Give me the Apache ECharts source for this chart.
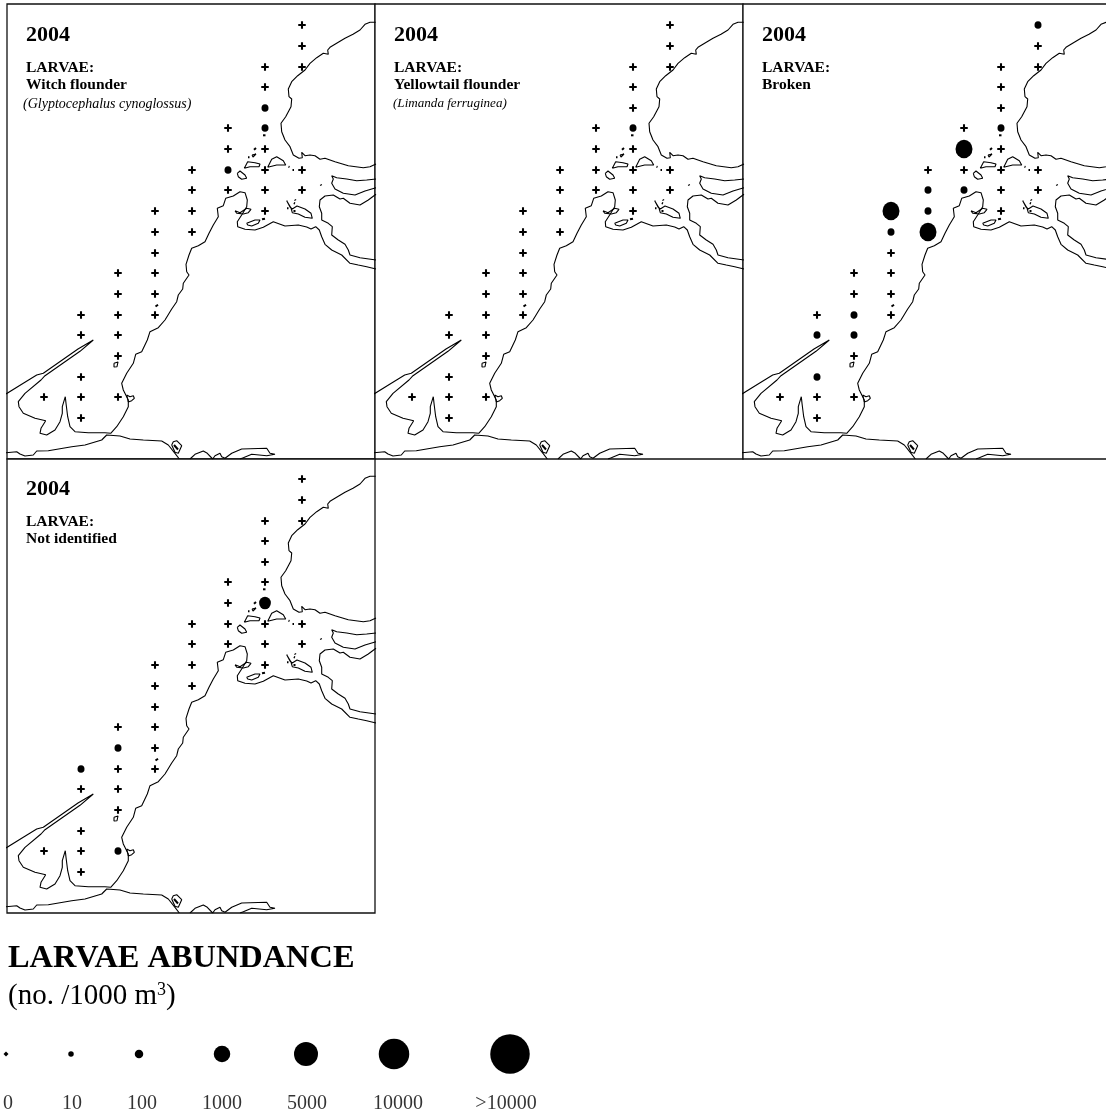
<!DOCTYPE html>
<html><head><meta charset="utf-8">
<style>html,body{margin:0;padding:0;background:#fff}#c{width:1106px;height:1118px}</style>
<script src="https://cdn.jsdelivr.net/npm/echarts@6/dist/echarts.min.js"></script>
</head><body><div id="c"></div>
<script>
// Station positions on the map (map units)
const stationX = [44, 81,81,81,81,81, 118,118,118,118,118,118, 155,155,155,155,155,155, 192,192,192,192, 228,228,228,228, 265,265,265,265,265,265,265,265, 302,302,302,302,302];
const stationY = [397, 315,335,377,397,418, 273,294,315,335,356,397, 211,232,253,273,294,315, 170,190,211,232, 128,149,170,190, 67,87,108,128,149,170,190,211, 25,46,67,170,190];
// Abundance per station (no./1000 m3), 0 = none caught (cross)
const witchValues =      [0, 0,0,0,0,0, 0,0,0,0,0,0, 0,0,0,0,0,0, 0,0,0,0, 0,0,100,0, 0,0,100,100,0,0,0,0, 0,0,0,0,0];
const yellowtailValues = [0, 0,0,0,0,0, 0,0,0,0,0,0, 0,0,0,0,0,0, 0,0,0,0, 0,0,0,0, 0,0,0,100,0,0,0,0, 0,0,0,0,0];
const brokenValues =     [0, 0,100,100,0,0, 0,0,100,100,0,0, 1000,100,0,0,0,0, 0,100,100,1000, 0,1000,0,100, 0,0,0,100,0,0,0,0, 100,0,0,0,0];
const unknownValues =    [0, 100,0,0,0,0, 0,100,0,0,0,100, 0,0,0,0,0,0, 0,0,0,0, 0,0,0,0, 0,0,0,0,300,0,0,0, 0,0,0,0,0];

// Coastline traces (map units)
const northShore = [[375.7,22.3],[370,22.3],[365,24.3],[360,30],[353,34.3],[345,38.3],[338.3,42.3],[330,47.3],[327.7,50],[328.3,54.3],[323.3,53.3],[316.7,57.7],[310,63.3],[305,70],[297.7,75.7],[291.7,81.7],[288.3,89],[289,96.7],[291.7,99],[291,106.7],[285.7,116.7],[281,123.3],[281.7,131.7],[285,140],[290,146.7],[293.3,155],[299,158.3],[302.3,157.7],[301.7,152.3],[305,155.7],[310,155],[315,155.7],[320,159.3],[325,158.3],[335,161.7],[348.3,165.7],[363.3,167.7],[370,166.7],[376,164]];
const upperStrip = [[376,179],[366.7,180],[356.7,180.7],[346.7,179],[336.7,177.7],[331.7,175.7],[333.3,179],[331.7,183.3],[335,189],[343.3,193.3],[355,195],[365,191],[376,187.7]];
const middleStrip = [[376,194.3],[368.3,200],[360,205],[350,203.3],[343.3,198.3],[340,199],[333.3,195],[325,196],[320,200],[319.3,206.7],[321.7,213.3],[321.7,220],[328.3,223.3],[332.3,226.7],[331.7,235],[338.3,240],[345,244.3],[348.3,250],[350,255],[360,257.7],[376,260]];
const mainCoast = [[376,269],[366.7,266.7],[358.3,265],[350,263.3],[341.7,255],[331.7,250],[325,244.3],[321.7,236.7],[319.3,230],[315.7,226.7],[311,229],[306.7,227],[298.3,225],[285,226],[273.3,221.7],[263.3,227.3],[255,230],[245,229.3],[237.7,226.7],[237.3,221.7],[242.3,214],[246.7,206.7],[247.3,200],[245,192.7],[240,191.7],[233.3,196],[225.7,198.3],[223.3,205.7],[217.3,208.3],[218.3,216.7],[213.3,225],[209,233.3],[207.3,235],[205,241.7],[198.3,245.7],[191.7,248.3],[189,255],[186,264.3],[186.7,271.7],[189,275],[183.3,283.3],[182.7,289],[178.3,295],[176.7,301.7],[171.7,309],[165,320],[158.3,327.7],[150,331.7],[147.3,340],[141.7,351.7],[135.7,354.3],[133.3,363.3],[126.7,373.3],[121.7,383.3],[123.3,390],[128.3,400],[128.3,406.7],[123.3,416.7],[116.7,426.7],[110.7,433.3],[105,432.7],[88.3,432.7],[75,431.7],[70,426.7],[67.7,416.7],[66,403.3],[65.3,396.7],[62.3,406.7],[62.3,413.3],[60,421.7],[55,430],[46.7,435],[40,433.3],[41,428.3],[45.7,420.7],[35,418.3],[23.3,413.3],[19,406.7],[18.3,401.7],[25,393.3],[41,380],[45,375.7],[80,351.3],[93.3,340],[92,339],[78,349],[43.3,373.3],[36.7,375],[23.3,383.3],[6,394]];
const southCoast = [[6,452.7],[16.7,451.7],[20,454],[25,456],[33.3,455],[36.7,451],[48.3,450.7],[71.7,446.7],[85,445],[101.7,440],[106.7,435],[120,436],[130,439],[143.3,440],[161.7,441],[168.3,445],[175,453.3],[179.3,459]];
const southCoast2 = [[190,459],[195,454.3],[203.3,451],[207.3,453.3],[212.7,459],[215,455.7],[220,453.3],[221.7,456.7],[225,458.3],[231.7,453.3],[241.7,449],[266.7,448.3],[270,453.3],[275,454.3],[266.7,455.7],[251.7,454.3],[243.3,457.7],[240,459]];
const islandA = [[235,210.7],[240,212.7],[246.7,208.3],[251,209.3],[248.3,212.7],[243.3,214],[236.7,213.3],[235,210.7]];
const islandB = [[246.7,223.3],[255,220],[260,220],[258.3,223.3],[251.7,226],[247.7,225],[246.7,223.3]];
const islandC = [[237.3,173.3],[240,171],[245,175],[246.7,178.3],[241.7,179.3],[238.3,176.7],[237.3,173.3]];
const islandD = [[244.3,168.3],[247.7,161.7],[255,162.7],[260,164],[259,166.7],[250,166.7],[244.3,168.3]];
const islandE = [[267.7,167.3],[271.7,159.3],[276.7,156.7],[283.3,160.7],[285.7,165],[276.7,165],[267.7,167.3]];
const islandF = [[286.7,200.7],[290,207],[292.3,209],[297,206],[305,209],[311,213.3],[312.3,218.3],[305,217.3],[298.3,214],[292.3,212.7],[291,208],[286.7,200.7]];
const islandG = [[252,155],[256,154],[257,156],[253,157],[252,155]];
const islandH = [[126.7,395],[130,396.7],[133.3,395.7],[134.3,398.3],[131.7,400.7],[128.3,402],[126.7,395]];
const islandI = [[114,363.3],[118,362],[117,366.7],[114,367],[114,363.3]];
const islandJ = [[171.7,445],[173.3,441.7],[176.7,440.7],[181.7,445.7],[178.3,453.3],[175,452.3],[171.7,445]];
const coastLines = [northShore,upperStrip,middleStrip,mainCoast,southCoast,southCoast2,islandA,islandB,islandC,islandD,islandE,islandF,islandG,islandH,islandI,islandJ];
// Very small islets, drawn heavier
const islet0 = [[174,445],[178,449.5]];
const islet1 = [[262,219.3],[265,218.7]];
const islet2 = [[254,149.8],[256,148]];
const islet3 = [[248,157.3],[249.5,157.3]];
const islet4 = [[288.5,166.7],[289.5,167]];
const islet5 = [[292.5,170],[294,170]];
const islet6 = [[320.7,184.5],[321.3,185.5]];
const islet7 = [[295,199.5],[295.5,200.5]];
const islet8 = [[293.8,203],[295,203.5]];
const islet9 = [[287,208.3],[288.5,208.3]];
const islet10 = [[293.5,211],[295.5,211]];
const islet11 = [[263,135.3],[265.5,135.3]];
const islet12 = [[155.5,306.5],[158,304.7]];
const isletLines = [islet0,islet1,islet2,islet3,islet4,islet5,islet6,islet7,islet8,islet9,islet10,islet11,islet12];

// Panel contents
const panelYears = ['2004','2004','2004','2004'];
const panelSpecies = ['Witch flounder','Yellowtail flounder','Broken','Not identified'];
const panelLatin = ['(Glyptocephalus cynoglossus)','(Limanda ferruginea)','',''];
const panelValues = [witchValues,yellowtailValues,brokenValues,unknownValues];

// Legend
const legendLabels = ['0','10','100','1000','5000','10000','>10000'];
const legendX = [6,71,139,222,306,394,510];
const legendTextX = [8,72,142,222,307,398,506];
const legendSizes = [5,5.5,8.5,16.5,24,30.5,39.5];

const panelBoxes = [[7,4],[375,4],[743,4],[7,459]];
const plus = 'path://M2.9 0H5.1V2.9H8V5.1H5.1V8H2.9V5.1H0V2.9H2.9Z';
const serif = '"Liberation Serif","Times New Roman",serif';

const grids=[],xAxes=[],yAxes=[],series=[],titles=[];
panelBoxes.forEach(([left,top],p)=>{
  const h = p===3 ? 454 : 455;
  grids.push({left,top,width:368,height:h,outerBoundsMode:'none',show:true,borderColor:'#111',borderWidth:1.3,backgroundColor:'#fff'});
  xAxes.push({type:'value',gridIndex:p,min:7,max:375,show:false});
  yAxes.push({type:'value',gridIndex:p,min:p===3?5:4,max:459,inverse:true,show:false});
  coastLines.forEach((line,k)=>series.push({type:'line',name:'coast'+k,xAxisIndex:p,yAxisIndex:p,data:line,showSymbol:false,symbol:'none',silent:true,clip:true,lineStyle:{color:'#000',width:1.1},z:2}));
  isletLines.forEach((line,k)=>series.push({type:'line',name:'islet'+k,xAxisIndex:p,yAxisIndex:p,data:line,showSymbol:false,symbol:'none',silent:true,clip:true,lineStyle:{color:'#000',width:2},z:2}));
  series.push({type:'scatter',name:panelSpecies[p],xAxisIndex:p,yAxisIndex:p,
    data:stationX.map((x,i)=>[x,stationY[i],panelValues[p][i]]),
    symbol:v=>v[2]===0?plus:'circle',
    symbolSize:v=>{
      if(v[2]===0) return 7.5;
      const d=7+10*Math.log10(v[2]/100);
      return [d,d*1.08];
    },
    itemStyle:{color:'#000',opacity:1},z:5,silent:true});
  const tx=left+19, ty=p===3?458:top;
  titles.push({text:panelYears[p],left:tx,top:ty+20,padding:0,textStyle:{fontFamily:serif,fontWeight:'bold',fontSize:22,color:'#000'}});
  titles.push({text:'LARVAE:\n'+panelSpecies[p],left:tx,top:ty+55,padding:0,textStyle:{fontFamily:serif,fontWeight:'bold',fontSize:15.5,lineHeight:17.5,color:'#000'}});
  if(panelLatin[p]) titles.push({text:panelLatin[p],left:p===0?tx-3:tx-1,top:ty+93,padding:0,textStyle:{fontFamily:serif,fontWeight:'normal',fontStyle:'italic',fontSize:p===0?14:13.1,color:'#000'}});
});
// Legend axes in page units
grids.push({left:0,top:920,width:1106,height:198,outerBoundsMode:'none',show:false});
xAxes.push({type:'value',gridIndex:4,min:0,max:1106,show:false});
yAxes.push({type:'value',gridIndex:4,min:0,max:198,inverse:true,show:false});
series.push({type:'scatter',name:'legend',xAxisIndex:4,yAxisIndex:4,clip:false,silent:true,
  data:legendX.map((x,i)=>({value:[x,134],symbolSize:legendSizes[i],symbol:i===0?'diamond':'circle'})),
  itemStyle:{color:'#000',opacity:1}});
series.push({type:'scatter',name:'legendText',xAxisIndex:4,yAxisIndex:4,clip:false,silent:true,symbolSize:1,
  data:legendTextX.map((x,i)=>({value:[x,184],name:legendLabels[i]})),
  itemStyle:{color:'rgba(0,0,0,0)'},
  label:{show:true,position:'inside',formatter:o=>o.name,fontFamily:serif,fontSize:20,color:'#000'}});
titles.push({text:'LARVAE ABUNDANCE',left:8,top:943,padding:0,textStyle:{fontFamily:serif,fontWeight:'bold',fontSize:32.4,color:'#000'}});
titles.push({text:'(no. /1000 m{s|3})',left:8,top:981,padding:0,textStyle:{fontFamily:serif,fontWeight:'normal',fontSize:29,color:'#000',rich:{s:{fontFamily:serif,fontWeight:'normal',fontSize:18,verticalAlign:'top',padding:[0,0,13,0],color:'#000'}}}});

const chart=echarts.init(document.getElementById('c'),null,{renderer:'canvas'});
chart.setOption({animation:false,backgroundColor:'#fff',title:titles,grid:grids,xAxis:xAxes,yAxis:yAxes,series,tooltip:{show:false},legend:{show:false}});
</script></body></html>
